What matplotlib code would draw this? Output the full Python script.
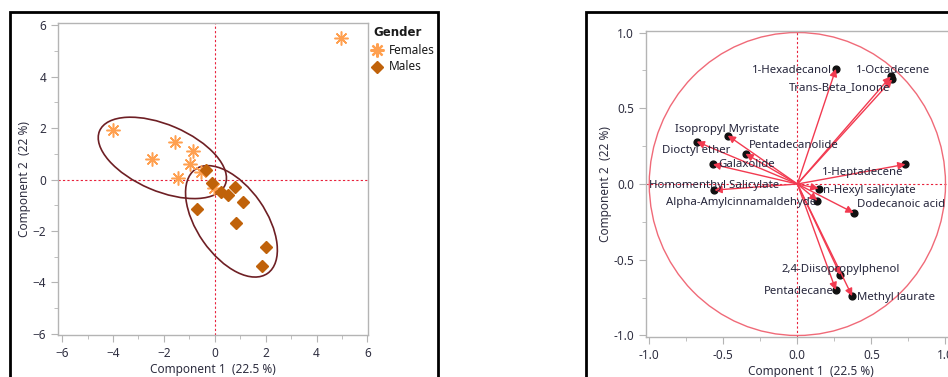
import numpy as np
import matplotlib
matplotlib.use("Agg")
import matplotlib.pyplot as plt
from matplotlib.patches import Ellipse, Circle, Rectangle
from matplotlib.ticker import MultipleLocator, FormatStrFormatter

plt.rcParams['font.family'] = ['Noto Sans', 'DejaVu Sans']

# ---------------- data ----------------
female_x = [4.95, -4.0, -1.56, -2.45, -0.85, -0.98, -1.43, -0.54, -0.02]
female_y = [5.5, 1.93, 1.47, 0.79, 1.12, 0.62, 0.05, 0.31, -0.33]
male_x = [-0.33, -0.09, 0.25, 0.52, 0.81, 1.10, 0.85, -0.71, 2.00, 1.86]
male_y = [0.36, -0.13, -0.47, -0.62, -0.30, -0.88, -1.67, -1.13, -2.63, -3.35]

# density ellipses: (center_x, center_y, width, height, angle)
female_ellipse = (-2.06, 0.84, 5.36, 2.58, -22.9)
male_ellipse = (0.655, -1.625, 4.94, 2.71, -54.8)

variables = ['1-Hexadecanol', '1-Octadecene', 'Trans-Beta_Ionone',
             'Isopropyl Myristate', 'Dioctyl ether', 'Pentadecanolide',
             'Galaxolide', 'Homomenthyl Salicylate', 'Alpha-Amylcinnamaldehyde',
             '1-Heptadecene', 'n-Hexyl salicylate', 'Dodecanoic acid',
             '2,4-Diisopropylphenol', 'Pentadecane', 'Methyl laurate']
load_x = [0.26, 0.63, 0.64, -0.47, -0.68, -0.35, -0.57, -0.56, 0.135,
          0.73, 0.143, 0.38, 0.29, 0.26, 0.37]
load_y = [0.76, 0.71, 0.69, 0.32, 0.28, 0.20, 0.13, -0.04, -0.11,
          0.13, -0.03, -0.19, -0.60, -0.70, -0.74]

xlabel = 'Component 1  (22.5 %)'
ylabel = 'Component 2  (22 %)'

# label placement (pixel offsets, alignment)
label_pos = {
    '1-Hexadecanol': (-4, -2, 'right'),
    '1-Octadecene': (2, 6, 'center'),
    'Trans-Beta_Ionone': (-2, -8, 'right'),
    'Isopropyl Myristate': (-1, 6, 'center'),
    'Dioctyl ether': (0, -9, 'center'),
    'Pentadecanolide': (3, 8, 'left'),
    'Galaxolide': (5, 0, 'left'),
    'Homomenthyl Salicylate': (0, 5, 'center'),
    'Alpha-Amylcinnamaldehyde': (-1, -2, 'right'),
    '1-Heptadecene': (-2, -8, 'right'),
    'n-Hexyl salicylate': (4, -2, 'left'),
    'Dodecanoic acid': (3, 8, 'left'),
    '2,4-Diisopropylphenol': (0, 5, 'center'),
    'Pentadecane': (-2, -1, 'right'),
    'Methyl laurate': (5, -1, 'left'),
}

# ---------------- style ----------------
W, H = 948, 377
fig = plt.figure(figsize=(W / 100, H / 100), dpi=100)

def fx(px):
    return px / W

def fy(py):
    return 1 - py / H

spine_c = '#b4b4b4'
tick_c = '#2e2e40'
cross_c = '#e8203a'
fem_c = '#ffa050'
male_c = '#c0620a'
ell_c = '#6e1f24'
arrow_c = '#f23a50'
circle_c = '#f06a78'
fs = 8.5
lfs = 8.2

# panel frames
fig.patches.append(Rectangle((fx(10), fy(420)), fx(428), (420 - 12) / H,
                             transform=fig.transFigure, fill=False, lw=2, ec='black'))
fig.patches.append(Rectangle((fx(586), fy(420)), fx(500), (420 - 12) / H,
                             transform=fig.transFigure, fill=False, lw=2, ec='black'))

def style_axes(ax):
    for s in ax.spines.values():
        s.set_color(spine_c)
        s.set_linewidth(1.0)
    ax.tick_params(which='both', color=spine_c, labelcolor=tick_c, labelsize=fs,
                   direction='out')
    ax.tick_params(which='major', length=5)
    ax.tick_params(which='minor', length=3)

# ---------------- left panel ----------------
ax1 = fig.add_axes([fx(58), 1 - 335 / H, fx(310), 312 / H])
style_axes(ax1)
ax1.set_xlim(-6.16, 6.02)
ax1.set_ylim(-6.04, 6.08)
ax1.xaxis.set_major_locator(MultipleLocator(2))
ax1.xaxis.set_minor_locator(MultipleLocator(1))
ax1.yaxis.set_major_locator(MultipleLocator(2))
ax1.yaxis.set_minor_locator(MultipleLocator(1))
ax1.axvline(0, color=cross_c, ls=(0, (2, 2)), lw=0.8, zorder=1)
ax1.axhline(0, color=cross_c, ls=(0, (2, 2)), lw=0.8, zorder=1)

for (cx, cy, w, h, a) in (female_ellipse, male_ellipse):
    ax1.add_patch(Ellipse((cx, cy), w, h, angle=a, fill=False, ec=ell_c, lw=1.2, zorder=2))

ax1.plot(female_x, female_y, ls='none', marker=(8, 2, 0), ms=10, mew=1.1,
         color=fem_c, zorder=3)
ax1.plot(male_x, male_y, ls='none', marker='D', ms=6.5, color=male_c,
         mec=male_c, zorder=4)
ax1.set_xlabel(xlabel, fontsize=fs, color=tick_c, labelpad=2)
ax1.set_ylabel(ylabel, fontsize=fs, color=tick_c, labelpad=1)

# legend
fig.text(fx(373), fy(33), 'Gender', fontsize=fs, fontweight='bold', color='#1a1a1a',
         ha='left', va='center', family=['DejaVu Sans'])
fig.lines.append(plt.Line2D([fx(377)], [fy(50)], transform=fig.transFigure,
                            marker=(8, 2, 0), ms=10, mew=1.6, color=fem_c, ls='none'))
fig.lines.append(plt.Line2D([fx(377)], [fy(66.5)], transform=fig.transFigure,
                            marker='D', ms=6.5, color=male_c, ls='none'))
fig.text(fx(389), fy(50), 'Females', fontsize=fs, color='#1a1a1a', ha='left', va='center')
fig.text(fx(389), fy(66.5), 'Males', fontsize=fs, color='#1a1a1a', ha='left', va='center')

# ---------------- right panel ----------------
ax2 = fig.add_axes([fx(646), 1 - 337 / H, fx(330), 306 / H])
style_axes(ax2)
ax2.set_xlim(-1.022, 1.206)
ax2.set_ylim(-1.01, 1.01)
ax2.xaxis.set_major_locator(MultipleLocator(0.5))
ax2.xaxis.set_minor_locator(MultipleLocator(0.25))
ax2.yaxis.set_major_locator(MultipleLocator(0.5))
ax2.yaxis.set_minor_locator(MultipleLocator(0.25))
ax2.xaxis.set_major_formatter(FormatStrFormatter('%.1f'))
ax2.yaxis.set_major_formatter(FormatStrFormatter('%.1f'))
ax2.axvline(0, color=cross_c, ls=(0, (2, 2)), lw=0.8, zorder=1)
ax2.axhline(0, color=cross_c, ls=(0, (2, 2)), lw=0.8, zorder=1)
ax2.add_patch(Circle((0, 0), 1.0, fill=False, ec=circle_c, lw=1.0, zorder=2))

ax2.scatter(load_x, load_y, s=24, color='#111111', zorder=3)
for name, x, y in zip(variables, load_x, load_y):
    ax2.annotate('', xy=(x, y), xytext=(0, 0),
                 arrowprops=dict(arrowstyle='-|>', color=arrow_c, lw=1.0,
                                 mutation_scale=11, shrinkA=0, shrinkB=0),
                 zorder=4)
    dx, dy, ha = label_pos[name]
    ax2.annotate(name, xy=(x, y), xytext=(dx, dy), textcoords='offset pixels',
                 ha=ha, va='center', fontsize=lfs, color='#24243a', zorder=5)

ax2.set_xlabel(xlabel, fontsize=fs, color=tick_c, labelpad=2)
ax2.set_ylabel(ylabel, fontsize=fs, color=tick_c, labelpad=1)

fig.savefig('out.png', dpi=100)
